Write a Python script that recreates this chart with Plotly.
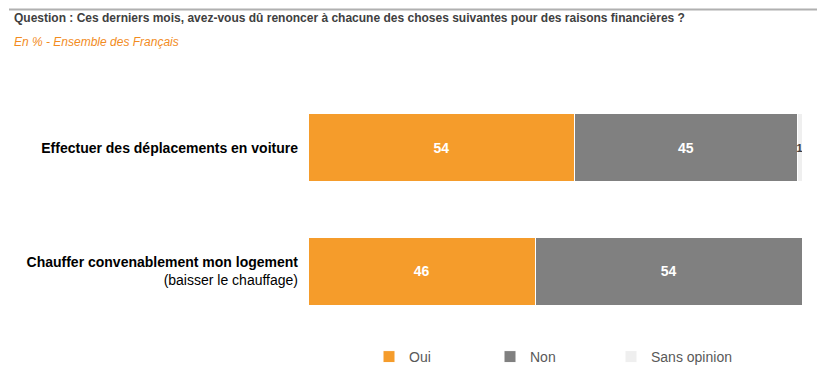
import plotly.graph_objects as go

categories = [
    "<b>Effectuer des déplacements en voiture</b>",
    "<b>Chauffer convenablement mon logement</b><br>(baisser le chauffage)",
]
series_names = ["Oui", "Non", "Sans opinion"]
oui = [54, 46]
non = [45, 54]
sans_opinion = [1, 0]

colors = ["#F59C2B", "#808080", "#EFEFEF"]
FONT = "Liberation Sans, Arial, sans-serif"

W, H = 817, 380
L, R, T, B = 308, 15, 86, 47
PW, PH = W - L - R, H - T - B


def px(x):
    return (x - L) / PW


def py(y):
    return (H - B - y) / PH


fig = go.Figure()
values = [oui, non, sans_opinion]
for name, vals, col in zip(series_names, values, colors):
    if name == "Sans opinion":
        txt = [str(v) if v > 0 else "" for v in vals]
        tf = dict(color="#404040", size=11, family=FONT, weight="bold")
    else:
        txt = [str(v) for v in vals]
        tf = dict(color="white", size=14, family=FONT, weight="bold")
    fig.add_trace(go.Bar(
        name=name, y=categories, x=vals, orientation="h",
        marker=dict(color=col, line=dict(color="white", width=1)),
        text=txt, textposition="inside", insidetextanchor="middle",
        textfont=tf, constraintext="none", hoverinfo="skip",
    ))

fig.update_layout(
    width=W, height=H,
    margin=dict(l=L, r=R, t=T, b=B, pad=0, autoexpand=False),
    barmode="stack", bargap=0.45,
    plot_bgcolor="white", paper_bgcolor="white",
    font=dict(family=FONT, color="#000000"),
    xaxis=dict(range=[0, 100], visible=False, fixedrange=True),
    yaxis=dict(autorange="reversed", showgrid=False, zeroline=False,
               showline=False, ticks="", ticklabelstandoff=9, automargin=False,
               tickfont=dict(size=14, color="#000000", family=FONT)),
    showlegend=True,
    legend=dict(orientation="h", xref="paper", yref="container",
                x=px(369), y=1 - 357 / H, xanchor="left", yanchor="middle",
                entrywidth=76, entrywidthmode="pixels",
                font=dict(size=14, color="#595959", family=FONT),
                traceorder="normal"),
    shapes=[dict(type="line", xref="paper", yref="paper", layer="above",
                 x0=px(9), x1=px(817), y0=py(9.5), y1=py(9.5),
                 line=dict(color="#B0B0B0", width=2))],
    annotations=[
        dict(text="<b>Question : Ces derniers mois, avez-vous dû renoncer à chacune des choses suivantes pour des raisons financières ?</b>",
             xref="paper", yref="paper", x=px(12), y=py(18), xanchor="left", yanchor="middle",
             showarrow=False, font=dict(size=12, color="#404040", family=FONT)),
        dict(text="<i>En % - Ensemble des Français</i>",
             xref="paper", yref="paper", x=px(12), y=py(42), xanchor="left", yanchor="middle",
             showarrow=False, font=dict(size=12, color="#F28C1E", family=FONT)),
    ],
)

fig.write_html("out.html", config={"displayModeBar": False},
               post_script="document.body.style.margin='0';")
